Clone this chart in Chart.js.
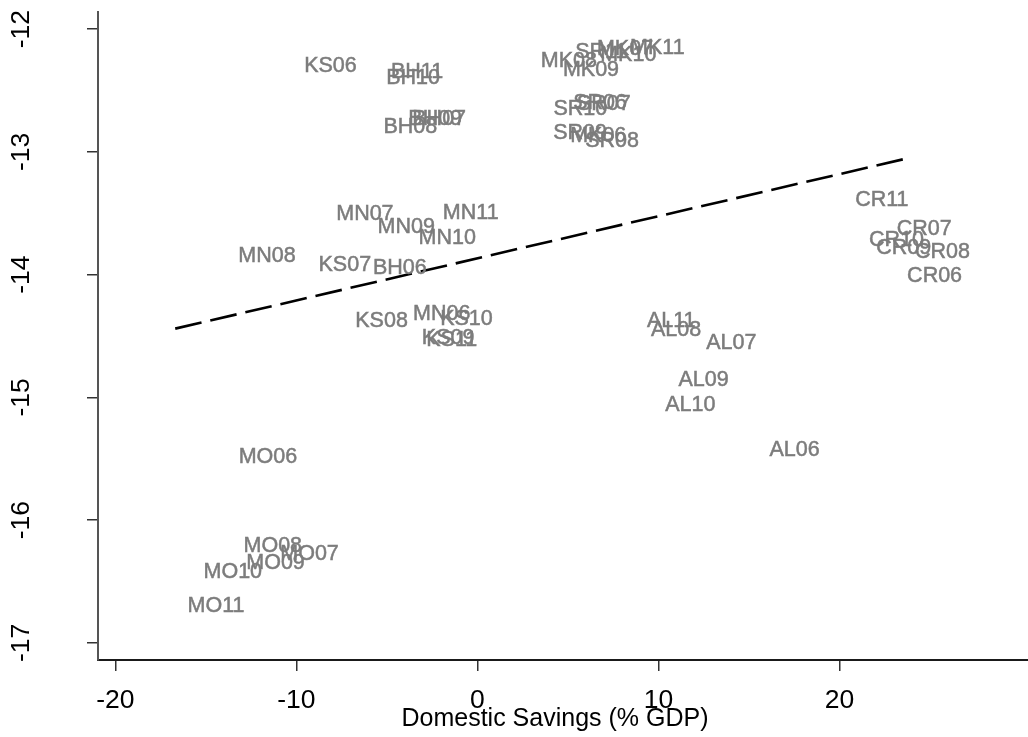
<!DOCTYPE html>
<html>
<head>
<meta charset="utf-8">
<script src="https://cdn.jsdelivr.net/npm/chart.js@4.4.1/dist/chart.umd.min.js"></script>
<style>
  html, body { margin: 0; padding: 0; background: #fff; }
</style>
</head>
<body>
<canvas id="savingsChart" width="1028" height="737"></canvas>
<script>
// Country-year labels (marker labels, no symbols)
const countryYears = [
    'KS06', 'KS07', 'KS08', 'KS09', 'KS10', 'KS11',
    'BH06', 'BH07', 'BH08', 'BH09', 'BH10', 'BH11',
    'MK06', 'MK07', 'MK08', 'MK09', 'MK10', 'MK11',
    'SR06', 'SR07', 'SR08', 'SR09', 'SR10', 'SR11',
    'MN06', 'MN07', 'MN08', 'MN09', 'MN10', 'MN11',
    'MO06', 'MO07', 'MO08', 'MO09', 'MO10', 'MO11',
    'AL06', 'AL07', 'AL08', 'AL09', 'AL10', 'AL11',
    'CR06', 'CR07', 'CR08', 'CR09', 'CR10', 'CR11'
];

// Domestic savings (% GDP)
const savings = [
    -10.23, -9.44, -7.41, -3.73, -2.72, -3.49,
    -6.43, -4.26, -5.85, -4.48, -5.70, -5.44,
    4.46, 5.94, 2.84, 4.06, 6.12, 7.77,
    4.63, 4.83, 5.29, 3.52, 3.54, 4.74,
    -4.22, -8.46, -13.87, -6.18, -3.91, -2.57,
    -13.85, -11.55, -13.58, -13.43, -15.79, -16.67,
    15.47, 11.97, 8.92, 10.44, 9.71, 8.70,
    23.07, 22.50, 23.51, 21.36, 20.97, 20.20
];

// Vertical axis values
const outcome = [
    -12.30, -13.92, -14.38, -14.52, -14.36, -14.53,
    -13.95, -12.73, -12.80, -12.73, -12.40, -12.35,
    -12.87, -12.16, -12.26, -12.33, -12.21, -12.15,
    -12.60, -12.61, -12.91, -12.85, -12.65, -12.19,
    -14.32, -13.51, -13.85, -13.61, -13.70, -13.50,
    -15.49, -16.28, -16.21, -16.35, -16.42, -16.70,
    -15.43, -14.56, -14.45, -14.86, -15.06, -14.38,
    -14.01, -13.63, -13.82, -13.78, -13.72, -13.39
];

// Linear fit endpoints
const fitSavings = [-16.69, 23.52];
const fitOutcome = [-14.44, -13.06];

const xTicks = [-20, -10, 0, 10, 20];
const yTicks = [-17, -16, -15, -14, -13, -12];

const FONT = '"Liberation Sans", Arial, sans-serif';

// Draw the country-year text at each (invisible) point
const markerLabels = {
    id: 'markerLabels',
    afterDatasetsDraw(chart) {
        const ctx = chart.ctx;
        const meta = chart.getDatasetMeta(0);
        ctx.save();
        ctx.font = '21.5px ' + FONT;
        ctx.fillStyle = '#7c7c7c';
        ctx.strokeStyle = '#7c7c7c';
        ctx.lineWidth = 0.5;
        ctx.textAlign = 'left';
        ctx.textBaseline = 'middle';
        meta.data.forEach((pt, i) => {
            ctx.fillText(countryYears[i], pt.x + 12, pt.y);
            ctx.strokeText(countryYears[i], pt.x + 12, pt.y);
        });
        ctx.restore();
    }
};

// Rotated y tick labels and x axis title
const axisText = {
    id: 'axisText',
    afterDraw(chart) {
        const ctx = chart.ctx;
        const y = chart.scales.y;
        ctx.save();
        ctx.font = '26.5px ' + FONT;
        ctx.fillStyle = '#000';
        ctx.textAlign = 'center';
        ctx.textBaseline = 'middle';
        yTicks.forEach(v => {
            ctx.save();
            ctx.translate(22, y.getPixelForValue(v));
            ctx.rotate(-Math.PI / 2);
            ctx.fillText(String(v), 0, 0);
            ctx.restore();
        });
        ctx.font = '25px ' + FONT;
        ctx.fillText('Domestic Savings (% GDP)', 555, 719);
        ctx.restore();
    }
};

const points = savings.map((v, i) => ({ x: v, y: outcome[i] }));
const fitLine = fitSavings.map((v, i) => ({ x: v, y: fitOutcome[i] }));

new Chart(document.getElementById('savingsChart'), {
    type: 'scatter',
    data: {
        datasets: [
            {
                data: points,
                pointRadius: 0,
                pointHoverRadius: 0,
                showLine: false
            },
            {
                type: 'line',
                data: fitLine,
                borderColor: '#000',
                borderWidth: 2.6,
                borderDash: [27, 9],
                pointRadius: 0,
                fill: false
            }
        ]
    },
    options: {
        responsive: false,
        animation: false,
        layout: { padding: { top: 12, right: 0, left: 0, bottom: 0 } },
        plugins: {
            legend: { display: false },
            tooltip: { enabled: false }
        },
        scales: {
            x: {
                type: 'linear',
                min: -20.955,
                max: 30.41,
                afterBuildTicks: s => { s.ticks = xTicks.map(v => ({ value: v })); },
                afterFit: s => { s.height = 77; },
                border: { display: true, color: '#1a1a1a', width: 2 },
                grid: { drawOnChartArea: false, drawTicks: true, tickLength: 11, color: '#333', lineWidth: 1.5 },
                ticks: {
                    color: '#000',
                    font: { family: FONT, size: 26.5 },
                    padding: 14,
                    maxRotation: 0,
                    autoSkip: false
                }
            },
            y: {
                type: 'linear',
                min: -17.14,
                max: -11.86,
                afterBuildTicks: s => { s.ticks = yTicks.map(v => ({ value: v })); },
                afterFit: s => { s.width = 98; },
                border: { display: true, color: '#555', width: 2 },
                grid: { drawOnChartArea: false, drawTicks: true, tickLength: 11, color: '#333', lineWidth: 1.5 },
                ticks: { display: false }
            }
        }
    },
    plugins: [markerLabels, axisText]
});
</script>
</body>
</html>
